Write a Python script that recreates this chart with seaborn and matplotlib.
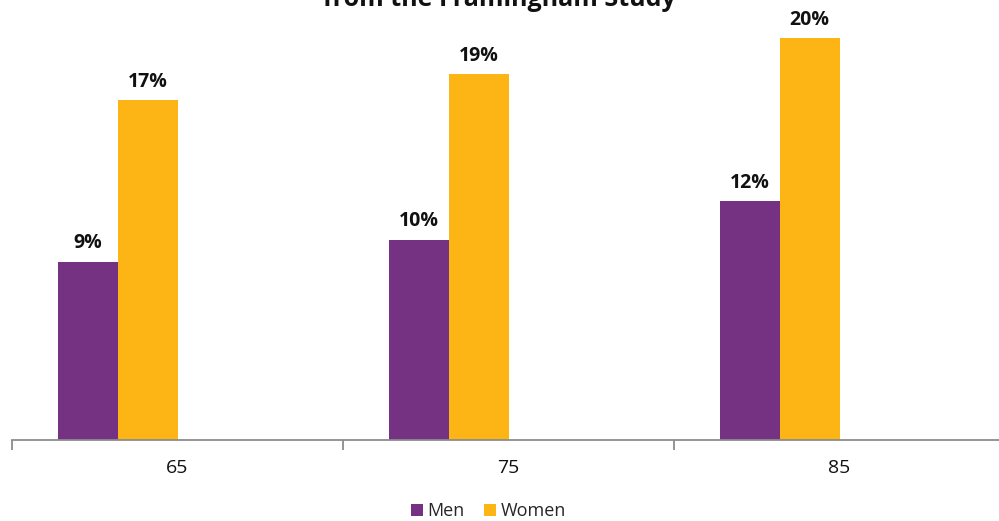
import matplotlib
matplotlib.use("Agg")
import matplotlib.pyplot as plt
import seaborn as sns
import pandas as pd
from matplotlib.lines import Line2D

# ---- data ----
ages = ["65", "75", "85"]
men_values = [8.9, 10.0, 11.9]
women_values = [16.95, 18.25, 20.05]
men_labels = ["9%", "10%", "12%"]
women_labels = ["17%", "19%", "20%"]
series = ["Men", "Women"]
title_text = "from the Framingham Study"

df = pd.DataFrame({
    "age": ages * 2,
    "sex": ["Men"] * 3 + ["Women"] * 3,
    "value": men_values + women_values,
})

sns.set_theme(style="white")
plt.rcParams["font.family"] = ["Open Sans", "DejaVu Sans"]

PURPLE = "#763282"
GOLD = "#FDB515"

fig = plt.figure(figsize=(9.99, 5.21), dpi=100)
ax = fig.add_axes([12 / 999, 81 / 521, 993 / 999, 440 / 521])

# Two extra (empty) hue levels reserve space, as in the original chart
hue_order = ["Men", "Women", "_s3", "_s4"]
palette = {"Men": PURPLE, "Women": GOLD, "_s3": "#ffffff", "_s4": "#ffffff"}
sns.barplot(data=df, x="age", y="value", hue="sex", order=ages,
            hue_order=hue_order, palette=palette, width=0.725,
            saturation=1, linewidth=0, errorbar=None, legend=False, ax=ax)

ax.set_xlim(-0.5, 2.5)
ax.set_ylim(0, 440 / 20.05)

# data labels
for cont, labels in zip(ax.containers, [men_labels, women_labels]):
    ax.bar_label(cont, labels=labels, padding=6, fontsize=14,
                 fontweight="bold", color="#111111")

for s in ["top", "right", "left"]:
    ax.spines[s].set_visible(False)
ax.spines["bottom"].set_color("#8c8c8c")
ax.spines["bottom"].set_linewidth(1.3)
ax.set_yticks([])
ax.set_xlabel("")
ax.set_ylabel("")
ax.tick_params(axis="x", which="major", bottom=False, length=0, pad=14,
               labelsize=14, labelcolor="#111111")
ax.set_xticks([-0.5, 0.5, 1.5, 2.5], minor=True)
ax.tick_params(axis="x", which="minor", bottom=True, length=7, width=1.3,
               color="#8c8c8c", direction="out")

handles = [Line2D([], [], marker="s", linestyle="", markersize=9,
                  markerfacecolor=c, markeredgewidth=0)
           for c in [PURPLE, GOLD]]
fig.legend(handles, series, loc="center", bbox_to_anchor=(488 / 999, 1 - 511 / 521),
           ncol=2, frameon=False, fontsize=13, handlelength=0.8,
           handletextpad=0.2, columnspacing=1.0)

fig.text(0.5, 1 - 6 / 521, title_text, ha="center", va="baseline",
         fontsize=18, fontweight="bold", color="#111111")

fig.savefig("out.png", dpi=100)
